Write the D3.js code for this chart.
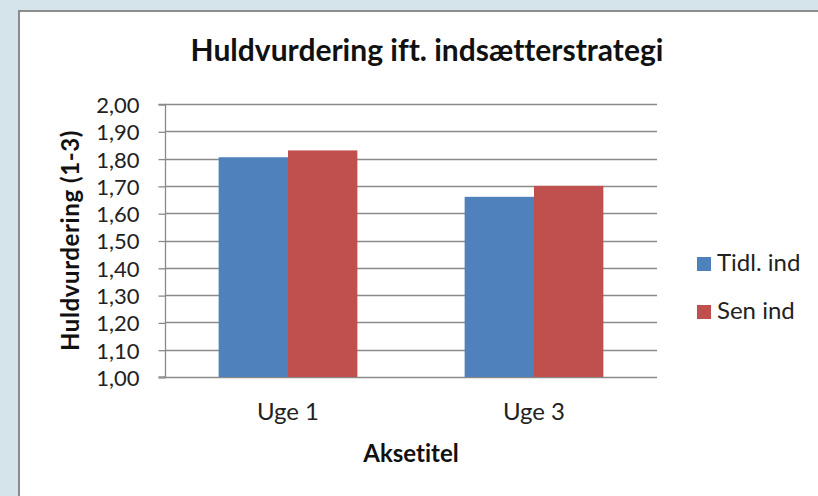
<!doctype html>
<html>
<head>
<meta charset="utf-8">
<title>Huldvurdering ift. indsætterstrategi</title>
<style>
  body { margin: 0; background: #d5e3eb; }
  svg { display: block; font-family: Lato, "Open Sans", sans-serif; font-variant-ligatures: none; }
</style>
</head>
<body>
<svg width="818" height="496"></svg>
<script src="https://d3js.org/d3.v7.min.js"></script>
<script>
var categories = ["Uge 1", "Uge 3"];
var series = ["Tidl. ind", "Sen ind"];
var tidlValues = [1.805, 1.66];
var senValues = [1.83, 1.70];
var yTicks = [1.0, 1.1, 1.2, 1.3, 1.4, 1.5, 1.6, 1.7, 1.8, 1.9, 2.0];
var colors = ["#4f81bd", "#c0504d"];

var svg = d3.select("svg"),
    width = +svg.attr("width"),
    height = +svg.attr("height");

// white chart panel with grey frame
svg.append("rect")
    .attr("x", 19).attr("y", 11)
    .attr("width", width).attr("height", height)
    .attr("fill", "#fff")
    .attr("stroke", "#8c8c8c")
    .attr("stroke-width", 2);

var plotLeft = 165, plotRight = 657, plotTop = 104, plotBottom = 377;

// excel style: gap width 150% between clusters
var x = d3.scaleBand()
    .domain(categories)
    .range([plotLeft, plotRight])
    .paddingInner(0.436)
    .paddingOuter(0.218);

var xs = d3.scaleBand()
    .domain(series)
    .range([0, x.bandwidth()]);

var y = d3.scaleLinear()
    .domain([1, 2])
    .range([plotBottom, plotTop]);

// gridlines
svg.append("g")
    .selectAll("line")
    .data(yTicks)
    .enter()
    .append("line")
    .attr("x1", plotLeft).attr("x2", plotRight)
    .attr("y1", function(d){ return Math.round(y(d)) + 0.5; })
    .attr("y2", function(d){ return Math.round(y(d)) + 0.5; })
    .attr("stroke", "#8a8a8a")
    .attr("stroke-width", 1.3);

// y axis
var yAxis = svg.append("g")
    .attr("transform", "translate(" + (plotLeft + 0.5) + ",0.5)")
    .call(d3.axisLeft(y)
        .tickValues(yTicks)
        .tickSize(7)
        .tickPadding(19)
        .tickFormat(function(d){ return d3.format(".2f")(d).replace(".", ","); }));
yAxis.selectAll("line, path").attr("stroke", "#8a8a8a").attr("stroke-width", 1.3);
yAxis.select(".domain").attr("d", "M-7," + plotTop + "H0V" + (plotBottom - 0.5) + "H-7");
yAxis.selectAll("text")
    .attr("font-size", 22)
    .attr("font-family", "Lato, sans-serif")
    .attr("fill", "#222")
    .attr("dy", "0.36em");

// bars
var groups = svg.append("g")
    .selectAll("g")
    .data(categories)
    .enter()
    .append("g")
    .attr("transform", function(d){ return "translate(" + x(d) + ",0)"; });

groups.selectAll("rect")
    .data(function(d, i){ return [
        {s: series[0], v: tidlValues[i], c: colors[0]},
        {s: series[1], v: senValues[i], c: colors[1]}
    ]; })
    .enter()
    .append("rect")
    .attr("x", function(d){ return xs(d.s); })
    .attr("width", xs.bandwidth())
    .attr("y", function(d){ return y(d.v); })
    .attr("height", function(d){ return y(1) - y(d.v); })
    .attr("fill", function(d){ return d.c; });

// x axis labels
svg.append("g")
    .selectAll("text")
    .data(categories)
    .enter()
    .append("text")
    .attr("x", function(d){ return x(d) + x.bandwidth() / 2; })
    .attr("y", 420)
    .attr("text-anchor", "middle")
    .attr("font-size", 24)
    .attr("fill", "#222")
    .text(function(d){ return d; });

// titles
svg.append("text")
    .attr("x", 427)
    .attr("y", 61)
    .attr("text-anchor", "middle")
    .attr("font-size", 30)
    .attr("font-weight", "bold")
    .attr("fill", "#111")
    .text("Huldvurdering ift. indsætterstrategi");

svg.append("text")
    .attr("x", (plotLeft + plotRight) / 2)
    .attr("y", 462)
    .attr("text-anchor", "middle")
    .attr("font-size", 24)
    .attr("font-weight", "bold")
    .attr("fill", "#111")
    .text("Aksetitel");

svg.append("text")
    .attr("transform", "translate(79," + ((plotTop + plotBottom) / 2) + ") rotate(-90)")
    .attr("text-anchor", "middle")
    .attr("font-size", 24)
    .attr("letter-spacing", 0.6)
    .attr("font-weight", "bold")
    .attr("fill", "#111")
    .text("Huldvurdering (1-3)");

// legend
var legend = svg.append("g")
    .selectAll("g")
    .data(series)
    .enter()
    .append("g")
    .attr("transform", function(d, i){ return "translate(697," + (257 + i * 48) + ")"; });

legend.append("rect")
    .attr("width", 14).attr("height", 14)
    .attr("fill", function(d, i){ return colors[i]; });

legend.append("text")
    .attr("x", 20)
    .attr("y", 14)
    .attr("font-size", 24)
    .attr("fill", "#222")
    .text(function(d){ return d; });
</script>
</body>
</html>
